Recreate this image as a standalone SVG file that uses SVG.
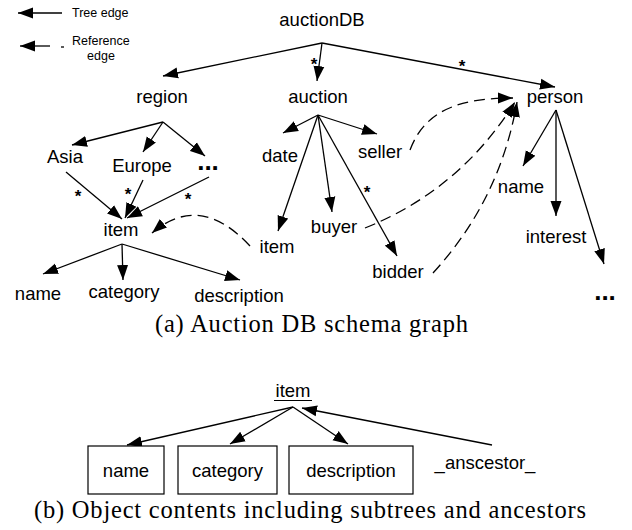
<svg xmlns="http://www.w3.org/2000/svg" width="632" height="530" viewBox="0 0 632 530">
<style>
.lbl{font-family:"Liberation Sans",Arial,sans-serif;font-size:18.5px;fill:#000;text-anchor:middle}
.sm{font-family:"Liberation Sans",Arial,sans-serif;font-size:12.5px;fill:#000}
.dots{font-family:"Liberation Sans",Arial,sans-serif;font-size:26px;font-weight:bold;fill:#000;text-anchor:middle}
.star{font-family:"Liberation Sans",Arial,sans-serif;font-size:17px;font-weight:bold;fill:#000;text-anchor:middle}
.cap{font-family:"Liberation Serif","Times New Roman",serif;font-size:24.5px;fill:#000;text-anchor:middle}
.e{stroke:#000;stroke-width:1.3;fill:none;marker-end:url(#ah)}
.r{stroke:#000;stroke-width:1.3;fill:none;stroke-dasharray:11 6;marker-end:url(#ah)}
.box{fill:#fff;stroke:#000;stroke-width:1.2}
</style>
<defs>
<marker id="ah" markerUnits="userSpaceOnUse" markerWidth="16" markerHeight="12" refX="15" refY="5.5" orient="auto" viewBox="0 0 16 11">
<path d="M0,0 L15,5.5 L0,11 z" fill="#000"/>
</marker>
</defs>

<g id="legend">
<line x1="62" y1="13" x2="18" y2="13" class="e"/>
<text class="sm" x="72" y="17">Tree edge</text>
<line x1="50" y1="46" x2="20" y2="46" class="e"/>
<line x1="61" y1="47" x2="64" y2="47" stroke="#000" stroke-width="1.3"/>
<text class="sm" x="72" y="45">Reference</text>
<text class="sm" x="101" y="60" text-anchor="middle">edge</text>
</g>

<g id="connectors">
<line x1="322" y1="43" x2="163" y2="76" class="e"/>
<line x1="322" y1="43" x2="317" y2="81" class="e"/>
<line x1="322" y1="43" x2="555" y2="87" class="e"/>
<line x1="163" y1="122" x2="72" y2="145" class="e"/>
<line x1="163" y1="122" x2="143" y2="152" class="e"/>
<line x1="163" y1="122" x2="205" y2="156" class="e"/>
<line x1="66" y1="172" x2="122" y2="219" class="e"/>
<line x1="143" y1="180" x2="125" y2="218" class="e"/>
<line x1="209" y1="177" x2="127" y2="218" class="e"/>
<line x1="122" y1="244" x2="43" y2="274" class="e"/>
<line x1="122" y1="244" x2="123" y2="280" class="e"/>
<line x1="122" y1="244" x2="240" y2="280" class="e"/>
<line x1="318" y1="115" x2="283" y2="133" class="e"/>
<line x1="318" y1="115" x2="377" y2="134" class="e"/>
<line x1="318" y1="115" x2="278" y2="231" class="e"/>
<line x1="318" y1="115" x2="332" y2="212" class="e"/>
<line x1="318" y1="115" x2="397" y2="256" class="e"/>
<line x1="556" y1="110" x2="523" y2="166" class="e"/>
<line x1="556" y1="110" x2="556" y2="216" class="e"/>
<line x1="556" y1="110" x2="604" y2="264" class="e"/>
<path d="M250,246 Q200,192 152,233" class="r"/>
<path d="M410,150 C425,110 460,98 513,98" class="r"/>
<path d="M365,228 Q460,190 515,102" class="r"/>
<path d="M433,273 Q500,200 517,102" class="r"/>
<line x1="293" y1="407" x2="127" y2="445" class="e"/>
<line x1="293" y1="407" x2="230" y2="444" class="e"/>
<line x1="293" y1="407" x2="348" y2="444" class="e"/>
<line x1="492" y1="445" x2="302" y2="408" class="e"/>
</g>

<g id="stars">
<text class="star" x="314" y="70">*</text>
<text class="star" x="462" y="72">*</text>
<text class="star" x="78" y="202">*</text>
<text class="star" x="128" y="200">*</text>
<text class="star" x="188" y="205">*</text>
<text class="star" x="367" y="198">*</text>
</g>

<g id="auctionDB"><text class="lbl" x="322" y="26">auctionDB</text></g>
<g id="region"><text class="lbl" x="162" y="103">region</text></g>
<g id="auction"><text class="lbl" x="318" y="103">auction</text></g>
<g id="person"><text class="lbl" x="555" y="103">person</text></g>
<g id="asia"><text class="lbl" x="65" y="163">Asia</text></g>
<g id="europe"><text class="lbl" x="142" y="172">Europe</text></g>
<g id="region-more"><text class="dots" x="208" y="170">...</text></g>
<g id="item"><text class="lbl" x="121" y="236">item</text></g>
<g id="item-name"><text class="lbl" x="38" y="300">name</text></g>
<g id="item-category"><text class="lbl" x="124" y="298">category</text></g>
<g id="item-description"><text class="lbl" x="239" y="302">description</text></g>
<g id="date"><text class="lbl" x="280" y="162">date</text></g>
<g id="seller"><text class="lbl" x="380" y="158">seller</text></g>
<g id="buyer"><text class="lbl" x="334" y="233">buyer</text></g>
<g id="auction-item"><text class="lbl" x="277" y="253">item</text></g>
<g id="bidder"><text class="lbl" x="398" y="278">bidder</text></g>
<g id="person-name"><text class="lbl" x="521" y="193">name</text></g>
<g id="interest"><text class="lbl" x="556" y="243">interest</text></g>
<g id="person-more"><text class="dots" x="605" y="300">...</text></g>

<g id="caption-a"><text class="cap" x="311.5" y="332" textLength="313" lengthAdjust="spacing">(a) Auction DB schema graph</text></g>

<g id="b-item"><text class="lbl" x="293" y="397">item</text><line x1="274" y1="400.5" x2="312" y2="400.5" stroke="#000" stroke-width="1.2"/></g>
<g id="b-name"><rect class="box" x="88" y="446" width="76" height="48"/><text class="lbl" x="126" y="477">name</text></g>
<g id="b-category"><rect class="box" x="178" y="446" width="99" height="48"/><text class="lbl" x="227.5" y="477">category</text></g>
<g id="b-description"><rect class="box" x="289" y="446" width="124" height="48"/><text class="lbl" x="351" y="477">description</text></g>
<g id="b-ancestor"><text class="lbl" x="485" y="469">_anscestor_</text></g>

<g id="caption-b"><text class="cap" x="310" y="518" textLength="552" lengthAdjust="spacing">(b) Object contents including subtrees and ancestors</text></g>
</svg>
